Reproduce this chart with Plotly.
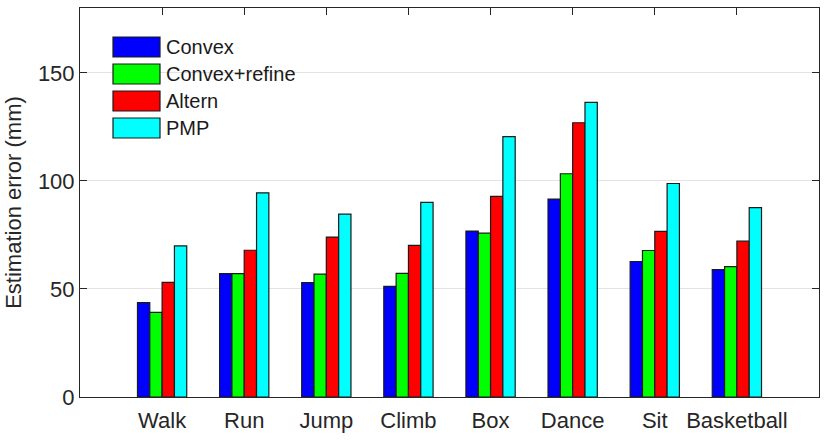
import plotly.graph_objects as go

categories = ["Walk", "Run", "Jump", "Climb", "Box", "Dance", "Sit", "Basketball"]
series_names = ["Convex", "Convex+refine", "Altern", "PMP"]
convex = [43.7, 57.1, 52.9, 51.2, 76.8, 91.6, 62.7, 58.9]
convex_refine = [39.2, 57.1, 56.9, 57.2, 75.8, 103.3, 67.8, 60.3]
altern = [53.0, 67.9, 74.0, 70.2, 92.8, 126.9, 76.6, 72.1]
pmp = [69.9, 94.5, 84.6, 90.1, 120.5, 136.3, 98.8, 87.6]
y_ticks = [0, 50, 100, 150]

colors = ["#0000FF", "#00FF00", "#FF0000", "#00FFFF"]
series = [convex, convex_refine, altern, pmp]

fig = go.Figure()
for name, vals, col in zip(series_names, series, colors):
    fig.add_trace(go.Bar(x=categories, y=vals, name=name,
                         marker=dict(color=col, line=dict(color="#1a1a1a", width=1.2)),
                         showlegend=False, hoverinfo="skip"))

font_family = "Liberation Sans, Arial, sans-serif"
L, R, T, B = 80, 11, 8, 45
fig.update_layout(
    width=830, height=442,
    margin=dict(l=L, r=R, t=T, b=B, autoexpand=False),
    paper_bgcolor="white", plot_bgcolor="white",
    barmode="group", bargap=0.4, bargroupgap=0,
    font=dict(family=font_family, size=22, color="#262626"),
)
fig.update_xaxes(range=[-1, 8], showline=True, linecolor="#262626", linewidth=1,
                 mirror="ticks", ticks="inside", ticklen=7, tickcolor="#262626",
                 showgrid=False, automargin=False, ticklabelstandoff=4,
                 tickfont=dict(size=22, color="#262626"))
fig.update_yaxes(range=[0, 180], tickvals=y_ticks, showline=True, linecolor="#262626",
                 linewidth=1, mirror="ticks", ticks="inside", ticklen=7,
                 tickcolor="#262626", showgrid=True, gridcolor="#e3e3e3", gridwidth=1,
                 zeroline=False, automargin=False, tickfont=dict(size=22, color="#262626"),
                 title=dict(text="Estimation error (mm)", font=dict(size=22, color="#262626"), standoff=10))

# custom legend in paper coordinates
pw = 830 - L - R
ph = 442 - T - B
def px_x(x):
    return (x - L) / pw
def px_y(y):
    return (442 - B - y) / ph

row_centers = [47, 74, 101, 128]
for name, col, yc in zip(series_names, colors, row_centers):
    fig.add_shape(type="rect", xref="paper", yref="paper",
                  x0=px_x(113), x1=px_x(160), y0=px_y(yc + 10), y1=px_y(yc - 10),
                  fillcolor=col, line=dict(color="#1a1a1a", width=1.2))
    fig.add_annotation(xref="paper", yref="paper", x=px_x(164), y=px_y(yc),
                       text=name, showarrow=False, xanchor="left", yanchor="middle",
                       font=dict(size=20, color="#1a1a1a", family=font_family))

fig.write_html("out.html", config={"displayModeBar": False, "staticPlot": True},
               post_script="document.body.style.margin='0';document.body.style.padding='0';document.body.style.overflow='hidden';")
